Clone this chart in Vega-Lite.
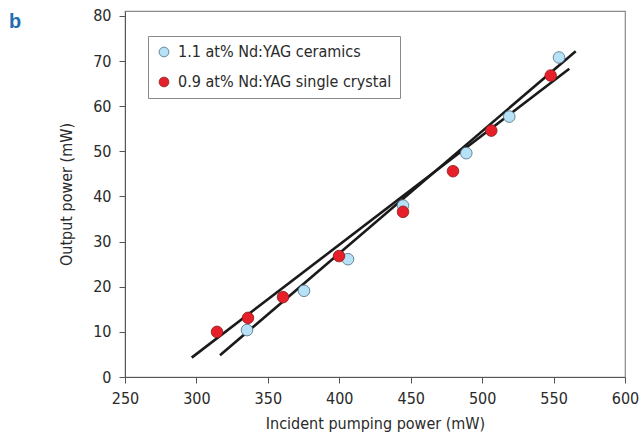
{
  "$schema": "https://vega.github.io/schema/vega-lite/v6.json",
  "autosize": "none",
  "width": 500,
  "height": 366,
  "padding": {"left": 125, "top": 11, "right": 18, "bottom": 57},
  "background": "white",
  "title": {"text": "b", "anchor": "start", "frame": "group", "dx": -116, "dy": 24, "offset": 0, "fontSize": 20, "fontWeight": "bold", "color": "#1f6fb2", "font": "Liberation Sans"},
  "config": {
    "font": "DejaVu Sans Condensed, Liberation Sans, sans-serif",
    "view": {"stroke": "#8a8a8a", "strokeWidth": 1.2},
    "axis": {"grid": false, "domainColor": "#555", "tickColor": "#555", "labelColor": "#2a2a2a", "titleColor": "#2a2a2a", "labelFontSize": 16, "titleFontSize": 16, "titleFontWeight": "normal", "labelFont": "DejaVu Sans Condensed, Liberation Sans, sans-serif", "titleFont": "DejaVu Sans Condensed, Liberation Sans, sans-serif", "tickSize": 6, "labelFlush": false}
  },
  "datasets": {
    "points": [
      {"sample": "1.1 at% Nd:YAG ceramics", "pump": 335.4, "out": 10.4},
      {"sample": "1.1 at% Nd:YAG ceramics", "pump": 375.3, "out": 19.1},
      {"sample": "1.1 at% Nd:YAG ceramics", "pump": 406.1, "out": 26.1},
      {"sample": "1.1 at% Nd:YAG ceramics", "pump": 444.6, "out": 38.0},
      {"sample": "1.1 at% Nd:YAG ceramics", "pump": 488.9, "out": 49.6},
      {"sample": "1.1 at% Nd:YAG ceramics", "pump": 519.0, "out": 57.7},
      {"sample": "1.1 at% Nd:YAG ceramics", "pump": 553.8, "out": 70.8},
      {"sample": "0.9 at% Nd:YAG single crystal", "pump": 314.4, "out": 10.0},
      {"sample": "0.9 at% Nd:YAG single crystal", "pump": 336.1, "out": 13.1},
      {"sample": "0.9 at% Nd:YAG single crystal", "pump": 360.6, "out": 17.7},
      {"sample": "0.9 at% Nd:YAG single crystal", "pump": 399.8, "out": 26.8},
      {"sample": "0.9 at% Nd:YAG single crystal", "pump": 444.6, "out": 36.6},
      {"sample": "0.9 at% Nd:YAG single crystal", "pump": 479.6, "out": 45.6},
      {"sample": "0.9 at% Nd:YAG single crystal", "pump": 506.4, "out": 54.6},
      {"sample": "0.9 at% Nd:YAG single crystal", "pump": 548.0, "out": 66.8}
    ],
    "fits": [
      {"fit": "ceramics", "pump": 316.5, "out": 4.8},
      {"fit": "ceramics", "pump": 565.5, "out": 72.2},
      {"fit": "crystal", "pump": 296.7, "out": 4.3},
      {"fit": "crystal", "pump": 561.0, "out": 68.3}
    ]
  },
  "layer": [
    {
      "data": {"name": "fits"},
      "mark": {"type": "line", "color": "#1a1a1a", "strokeWidth": 2.6, "clip": true},
      "encoding": {
        "x": {"field": "pump", "type": "quantitative"},
        "y": {"field": "out", "type": "quantitative"},
        "detail": {"field": "fit"}
      }
    },
    {
      "data": {"name": "points"},
      "mark": {"type": "point", "filled": true, "size": 135, "opacity": 1, "strokeWidth": 0.8},
      "encoding": {
        "x": {"field": "pump", "type": "quantitative", "scale": {"domain": [250, 600], "nice": false}, "axis": {"title": "Incident pumping power (mW)", "values": [250, 300, 350, 400, 450, 500, 550, 600], "labelPadding": 7, "titlePadding": 9}},
        "y": {"field": "out", "type": "quantitative", "scale": {"domain": [0, 81.1], "nice": false}, "axis": {"title": "Output power (mW)", "values": [0, 10, 20, 30, 40, 50, 60, 70, 80], "labelPadding": 8, "titlePadding": 18}},
        "fill": {"field": "sample", "type": "nominal", "scale": {"domain": ["1.1 at% Nd:YAG ceramics", "0.9 at% Nd:YAG single crystal"], "range": ["#b6e1f6", "#e5202b"]}, "legend": {"title": null, "orient": "none", "legendX": 23, "legendY": 25, "padding": 8, "strokeColor": "#8a8a8a", "fillColor": "white", "labelFontSize": 16, "labelColor": "#2a2a2a", "labelFont": "DejaVu Sans Condensed, Liberation Sans, sans-serif", "symbolSize": 95, "symbolType": "circle", "rowPadding": 14, "labelOffset": 6, "symbolStrokeWidth": 0.8, "labelLimit": 300}},
        "stroke": {"field": "sample", "type": "nominal", "scale": {"domain": ["1.1 at% Nd:YAG ceramics", "0.9 at% Nd:YAG single crystal"], "range": ["#4f6c80", "#8c1c1c"]}, "legend": null}
      }
    }
  ]
}
